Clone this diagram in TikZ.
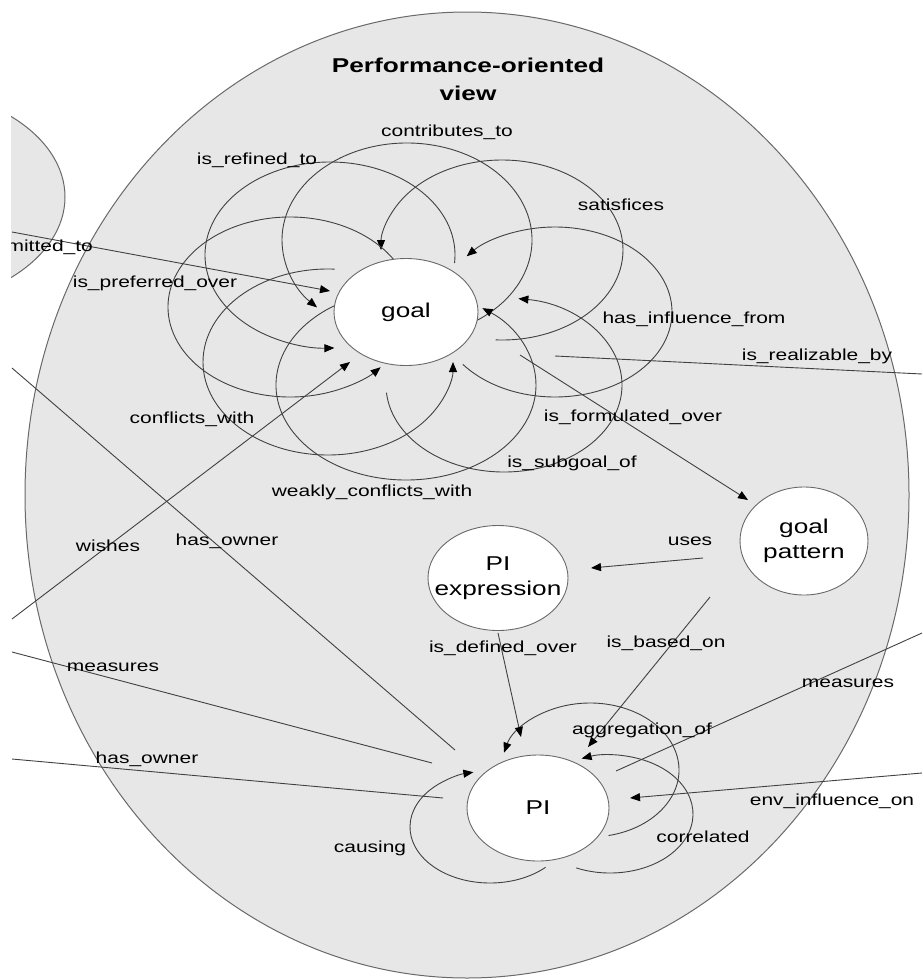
\documentclass[tikz,border=0pt]{standalone}
\usepackage{fontspec}
\setmainfont{Liberation Sans}[FakeStretch=1.31]
\usetikzlibrary{shapes.geometric,arrows.meta}
\definecolor{viewfill}{RGB}{231,231,231}
\definecolor{viewline}{RGB}{105,105,105}
\definecolor{relline}{RGB}{65,65,65}
\pgfdeclarelayer{background}
\pgfdeclarelayer{edges}
\pgfsetlayers{background,edges,main}

\begin{document}
\begin{tikzpicture} [
            x=1pt, y=-1pt,
            view/.style = {draw=viewline,fill=viewfill,line width=1pt},
            concept/.style = {ellipse,draw=viewline,fill=white,line width=0.9pt,inner sep=0pt},
            conceptname/.style = {align=center,inner sep=0pt,font=\fontsize{20}{25}\selectfont},
            title/.style = {align=center,inner sep=0pt,font=\fontsize{20}{28}\selectfont\bfseries},
            lbl/.style = {inner sep=0pt,font=\fontsize{16}{19}\selectfont},
            rel/.style = {draw=relline,line width=0.9pt,-},
            relarrow/.style = {rel,-{Triangle[length=10pt,width=8pt,color=black]}},
        ]
        \useasboundingbox (0,0) rectangle (922,980);
        \clip (11,0) rectangle (922,980);
        % First the concepts of the view
        \node[concept,minimum width=144pt,minimum height=107pt,
            label={[conceptname]center:goal}] (goal) at (406,312) {};
        \node[concept,minimum width=128pt,minimum height=108pt,
            label={[conceptname]center:goal\\pattern}] (gpat) at (804,541) {};
        \node[concept,minimum width=140pt,minimum height=105pt,
            label={[conceptname]center:PI\\expression}] (piexpr) at (498,578) {};
        \node[concept,minimum width=142pt,minimum height=106pt,
            label={[conceptname]center:PI}] (pi) at (538,808) {};
        % loose ends of relations that leave the picture
        \coordinate (comm) at (12,232);
        \coordinate (ownu) at (12,368);
        \coordinate (wish) at (12,619);
        \coordinate (measl) at (12,652);
        \coordinate (ownl) at (12,759);
        \coordinate (realize) at (922,374);
        \coordinate (measr) at (922,633);
        \coordinate (envr) at (922,773);
        % Relation names
        \node[title] (ttl) at (468,79) {Performance-oriented\\view};
        \node[lbl,anchor=east] (lcommit) at (93,247) {committed\_to};
        \foreach \pos/\name/\txt in {
                % round goal
                {(447,132)/lcontrib/contributes\_to},
                {(257,160)/lrefined/is\_refined\_to},
                {(621,205)/lsatisf/satisfices},
                {(155,283)/lprefer/is\_preferred\_over},
                {(694,319)/linflu/has\_influence\_from},
                {(817,356)/lrealiz/is\_realizable\_by},
                {(192,419)/lconfl/conflicts\_with},
                {(633,417)/lformul/is\_formulated\_over},
                {(572,463)/lsubgoal/is\_subgoal\_of},
                {(372,492)/lweakly/weakly\_conflicts\_with},
                % middle
                {(108,546)/lwishes/wishes},
                {(227,541)/lownerup/has\_owner},
                {(690,541)/luses/uses},
                {(503,648)/ldefined/is\_defined\_over},
                {(666,643)/lbased/is\_based\_on},
                % round PI
                {(113,667)/lmeasleft/measures},
                {(848,683)/lmeasright/measures},
                {(642,730)/laggr/aggregation\_of},
                {(147,759)/lownerlow/has\_owner},
                {(832,801)/lenvinf/env\_influence\_on},
                {(703,837)/lcorr/correlated},
                {(370,848)/lcausing/causing}}
            \node[lbl] (\name) at \pos {\txt};
        % the views behind everything
        \begin{pgfonlayer}{background}
            \begin{scope}
                \clip (11,0) rectangle (922,980);
                \draw[view] (-104,197) ellipse [x radius=169, y radius=110];
                \draw[view] (467,495) ellipse [x radius=442, y radius=483];
            \end{scope}
        \end{pgfonlayer}
        \begin{pgfonlayer}{edges}
            % loops on goal: centre offset/radii/start and end angle
            \foreach \dx/\dy/\rx/\ry/\from/\to in {
                    1/-72/125/97/60/-224,      % contributes_to
                    -76/-57/125/93/5/-272,     % is_refined_to
                    96/-62/121/90/93/-180,     % satisfices
                    149/0/117/85/142/-139,     % has_influence_from
                    98/73/118/87/175/-83,      % is_subgoal_of
                    0/73/130/95/240/-54,       % weakly_conflicts_with
                    -78/50/125/93/273/0,       % conflicts_with
                    -116/-5/122/90/-20/-318}   % is_preferred_over
                \draw[relarrow] ([shift={(\dx,\dy)}]goal.center) ++({\rx*cos(\from)},{\ry*sin(\from)})
                    arc [start angle=\from, end angle=\to, x radius=\rx, y radius=\ry];
            % loops on PI
            \foreach \dx/\dy/\rx/\ry/\from/\to in {
                    52/-38/89/67/78/-165,      % aggregation_of
                    72/6/83/59/114/-110,       % correlated
                    -48/19/80/56/46/258}       % causing
                \draw[relarrow] ([shift={(\dx,\dy)}]pi.center) ++({\rx*cos(\from)},{\ry*sin(\from)})
                    arc [start angle=\from, end angle=\to, x radius=\rx, y radius=\ry];
            % relations between the concepts
            \draw[relarrow] (comm) -- ([shift={(-76,-21)}]goal.center);
            \draw[relarrow] (wish) -- ([shift={(-56,50)}]goal.center);
            \draw[rel] ([shift={(149,44)}]goal.center) -- (realize);
            \draw[relarrow] ([shift={(114,43)}]goal.center) -- ([shift={(-56,-41)}]gpat.center);
            \draw[relarrow] ([shift={(-101,17)}]gpat.center) -- ([shift={(93,-10)}]piexpr.center);
            \draw[relarrow] ([shift={(-94,56)}]gpat.center) -- ([shift={(50,-61)}]pi.center);
            \draw[relarrow] ([shift={(0,55)}]piexpr.center) -- ([shift={(-17,-71)}]pi.center);
            \draw[rel] ([shift={(78,-37)}]pi.center) -- (measr);
            \draw[relarrow] (envr) -- ([shift={(92,-10)}]pi.center);
            \draw[rel] ([shift={(-106,-45)}]pi.center) -- (measl);
            \draw[rel] ([shift={(-95,-10)}]pi.center) -- (ownl);
            \draw[rel] ([shift={(-83,-58)}]pi.center) -- (ownu);
        \end{pgfonlayer}
    \end{tikzpicture}
\end{document}
